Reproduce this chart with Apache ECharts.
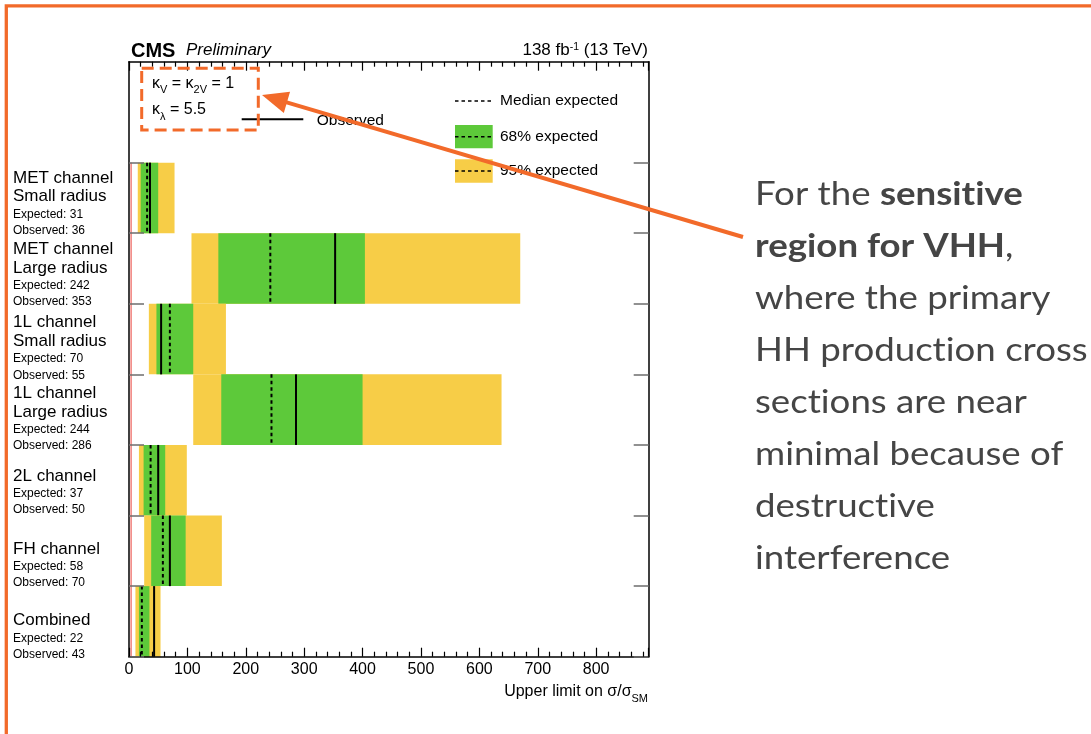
<!DOCTYPE html>
<html><head><meta charset="utf-8">
<script src="https://cdn.jsdelivr.net/npm/echarts@6/dist/echarts.min.js"></script>
<style>html,body{margin:0;padding:0;background:#fff}#c{width:1091px;height:734px}</style>
</head><body><div id="c"></div>
<script>
// ---- data ----
const channelTitles = [['MET channel','Small radius'],['MET channel','Large radius'],['1L channel','Small radius'],['1L channel','Large radius'],['2L channel'],['FH channel'],['Combined']];
const expected = [31, 242, 70, 244, 37, 58, 22];
const observed = [36, 353, 55, 286, 50, 70, 43];
const band68Low  = [20, 153, 47, 158, 25, 38, 17];
const band68High = [50, 404, 110, 400, 62, 97, 35];
const band95Low  = [15, 107, 34, 110, 17, 26, 11];
const band95High = [78, 670, 166, 638, 99, 159, 54];
const xTickValues = [0, 100, 200, 300, 400, 500, 600, 700, 800];
const smReference = [1];

// ---- layout / style ----
const nRows = channelTitles.length;
const GREEN = '#5dc93a', YELLOW = '#f7cd47', ORANGE = '#f26a2a';
const FONT = 'Liberation Sans, Arial, Helvetica, sans-serif';
const labelFirstY = [178, 249.3, 322.7, 393.3, 476, 549, 620.7];

const chart = echarts.init(document.getElementById('c'), null, {renderer: 'canvas'});

function renderBand(params, api) {
  const row = api.value(0);
  const yTop = api.coord([0, nRows - row])[1];
  const yBot = api.coord([0, nRows - row - 1])[1];
  const px = v => api.coord([v, 0])[0];
  const h = yBot - yTop;
  const e = px(api.value(5)), o = px(api.value(6));
  return {type: 'group', children: [
    {type: 'rect', shape: {x: px(api.value(1)), y: yTop, width: px(api.value(2)) - px(api.value(1)), height: h}, style: {fill: YELLOW}},
    {type: 'rect', shape: {x: px(api.value(3)), y: yTop, width: px(api.value(4)) - px(api.value(3)), height: h}, style: {fill: GREEN}},
    {type: 'line', shape: {x1: e, y1: yTop, x2: e, y2: yBot}, style: {stroke: '#000', lineWidth: 2, lineDash: [3.5, 3]}},
    {type: 'line', shape: {x1: o, y1: yTop, x2: o, y2: yBot}, style: {stroke: '#000', lineWidth: 2}}
  ]};
}
function renderSM(params, api) {
  const x = api.coord([api.value(0), 0])[0] + 1.5;
  const y1 = api.coord([0, nRows])[1], y2 = api.coord([0, 0])[1];
  return {type: 'line', shape: {x1: x, y1: y1, x2: x, y2: y2}, style: {stroke: '#e8403a', lineWidth: 1}};
}

const bandData = channelTitles.map((_, i) => [i, band95Low[i], band95High[i], band68Low[i], band68High[i], expected[i], observed[i]]);

const xCommon = {
  type: 'value', min: 0, max: 890, interval: 100,
  splitLine: {show: false},
  axisLine: {show: true, onZero: false, lineStyle: {color: '#000', width: 1.5}},
  axisTick: {show: true, inside: true, length: 9, lineStyle: {color: '#000', width: 1.2}},
  minorTick: {show: true, splitNumber: 5, length: 5, lineStyle: {color: '#000', width: 1.2}},
  z: 10
};
const yCommon = {
  type: 'value', min: 0, max: 8.43,
  splitLine: {show: false},
  axisLine: {show: true, onZero: false, lineStyle: {color: '#000', width: 1.5}},
  axisTick: {show: true, inside: true, length: 15, customValues: [0,1,2,3,4,5,6,7], lineStyle: {color: '#6e6e6e', width: 1.5}},
  axisLabel: {show: false},
  z: 10
};

// graphic elements
const graphics = [];
graphics.push({type: 'polyline', shape: {points: [[6.3, 734], [6.3, 5.8], [1091, 5.8]]}, style: {stroke: ORANGE, lineWidth: 3.3, fill: null}, z: 50});
// header
graphics.push({type: 'text', left: 131, top: 41, style: {text: 'CMS', font: 'bold 20px ' + FONT, fill: '#000'}});
graphics.push({type: 'text', left: 186, top: 42, style: {text: 'Preliminary', font: 'italic 17px ' + FONT, fill: '#000'}});
graphics.push({type: 'text', x: 648, y: 42, style: {text: '138 fb{sup|-1} (13 TeV)', align: 'right', verticalAlign: 'top', font: '17px ' + FONT, fill: '#000',
  rich: {sup: {fontSize: 10.5, fontFamily: FONT, verticalAlign: 'top', lineHeight: 10, fill: '#000'}}}});
// kappa text
const kRich = {sub: {fontSize: 11, fontFamily: FONT, verticalAlign: 'bottom', lineHeight: 11, padding: [0, 0, -3, 0], fill: '#000'}, n: {fontSize: 16, fontFamily: FONT, lineHeight: 18, fill: '#000'}};
graphics.push({type: 'text', x: 152, y: 83.5, style: {text: '{n|κ}{sub|V}{n| = κ}{sub|2V}{n| = 1}', verticalAlign: 'middle', rich: kRich}});
graphics.push({type: 'text', x: 152, y: 110, style: {text: '{n|κ}{sub|λ}{n| = 5.5}', verticalAlign: 'middle', rich: kRich}});
// observed legend
graphics.push({type: 'line', shape: {x1: 241.7, y1: 119.3, x2: 303.3, y2: 119.3}, style: {stroke: '#000', lineWidth: 2}});
graphics.push({type: 'text', x: 316.7, y: 121, style: {text: 'Observed', verticalAlign: 'middle', font: '15.5px ' + FONT, fill: '#000'}});
// expected legend
graphics.push({type: 'line', shape: {x1: 455, y1: 101, x2: 492.7, y2: 101}, style: {stroke: '#000', lineWidth: 1.5, lineDash: [3.5, 3]}});
graphics.push({type: 'text', x: 500, y: 101, style: {text: 'Median expected', verticalAlign: 'middle', font: '15.5px ' + FONT, fill: '#000'}});
graphics.push({type: 'rect', shape: {x: 455, y: 125, width: 37.7, height: 23.3}, style: {fill: GREEN}});
graphics.push({type: 'line', shape: {x1: 455, y1: 136.7, x2: 492.7, y2: 136.7}, style: {stroke: '#000', lineWidth: 1.5, lineDash: [3.5, 3]}});
graphics.push({type: 'text', x: 500, y: 136.7, style: {text: '68% expected', verticalAlign: 'middle', font: '15.5px ' + FONT, fill: '#000'}});
graphics.push({type: 'rect', shape: {x: 455, y: 159.3, width: 37.7, height: 23.4}, style: {fill: YELLOW}});
graphics.push({type: 'line', shape: {x1: 455, y1: 171, x2: 492.7, y2: 171}, style: {stroke: '#000', lineWidth: 1.5, lineDash: [3.5, 3]}});
graphics.push({type: 'text', x: 500, y: 171, style: {text: '95% expected', verticalAlign: 'middle', font: '15.5px ' + FONT, fill: '#000'}});
// axis title
graphics.push({type: 'text', x: 648, y: 692, style: {text: 'Upper limit on σ/σ{sub|SM}', align: 'right', verticalAlign: 'middle', font: '16px ' + FONT, fill: '#000',
  rich: {sub: {fontSize: 11, fontFamily: FONT, verticalAlign: 'bottom', lineHeight: 11, padding: [0, 0, -4, 0], fill: '#000'}}}});
// row labels
channelTitles.forEach((titles, i) => {
  let y = labelFirstY[i];
  titles.forEach((t, k) => {
    if (k > 0) y += 18.7;
    graphics.push({type: 'text', x: 13, y: y, style: {text: t, verticalAlign: 'middle', font: '17px ' + FONT, fill: '#000'}});
  });
  y += 17.5;
  graphics.push({type: 'text', x: 13, y: y, style: {text: 'Expected: ' + expected[i], verticalAlign: 'middle', font: '12px ' + FONT, fill: '#000'}});
  y += 16.5;
  graphics.push({type: 'text', x: 13, y: y, style: {text: 'Observed: ' + observed[i], verticalAlign: 'middle', font: '12px ' + FONT, fill: '#000'}});
});
// annotation
graphics.push({type: 'rect', shape: {x: 141.7, y: 68.3, width: 116.6, height: 61.7}, style: {fill: null, stroke: ORANGE, lineWidth: 3, lineDash: [12, 6]}, z: 50});
const tip = [262, 95], tail = [743, 237];
const dx = tail[0] - tip[0], dy = tail[1] - tip[1], L = Math.hypot(dx, dy), ux = dx / L, uy = dy / L;
const hl = 26, hw = 11;
const base = [tip[0] + ux * hl, tip[1] + uy * hl];
graphics.push({type: 'line', shape: {x1: base[0] - ux * 2, y1: base[1] - uy * 2, x2: tail[0], y2: tail[1]}, style: {stroke: ORANGE, lineWidth: 4}, z: 50});
graphics.push({type: 'polygon', shape: {points: [tip, [base[0] - uy * hw, base[1] + ux * hw], [base[0] + uy * hw, base[1] - ux * hw]]}, style: {fill: ORANGE}, z: 50});
const ZW = '\u200C';
graphics.push({type: 'text', x: 755, y: 168, scaleX: 1.11, style: {
  text: 'For the {b|sensit' + ZW + 'ive}\n{b|region for VHH},\nwhere the primary\nHH product' + ZW + 'ion cross\nsect' + ZW + 'ions are near\nminimal because of\ndestruct' + ZW + 'ive\ninterference',
  verticalAlign: 'top', font: '33px Lato', lineHeight: 52, fill: '#454545',
  rich: {b: {fontFamily: 'Lato', fontWeight: 'bold', fontSize: 33, lineHeight: 52, fill: '#454545'}}}, z: 50});

chart.setOption({
  animation: false,
  backgroundColor: '#fff',
  grid: {left: 129, right: 442.3, top: 61.7, bottom: 77.3, show: false},
  xAxis: [
    Object.assign({}, xCommon, {position: 'bottom', axisLabel: {show: true, fontSize: 16, fontFamily: FONT, color: '#000', margin: 5, showMaxLabel: false}}),
    Object.assign({}, xCommon, {position: 'top', axisLabel: {show: false}})
  ],
  yAxis: [
    Object.assign({}, yCommon, {position: 'left'}),
    Object.assign({}, yCommon, {position: 'right'})
  ],
  series: [
    {type: 'custom', renderItem: renderBand, data: bandData, encode: {x: [1, 2], y: 0}, xAxisIndex: 0, yAxisIndex: 0, z: 2},
    {type: 'custom', renderItem: renderSM, data: smReference.map(v => [v]), encode: {x: 0}, xAxisIndex: 0, yAxisIndex: 0, z: 3}
  ],
  graphic: graphics
});
</script></body></html>
